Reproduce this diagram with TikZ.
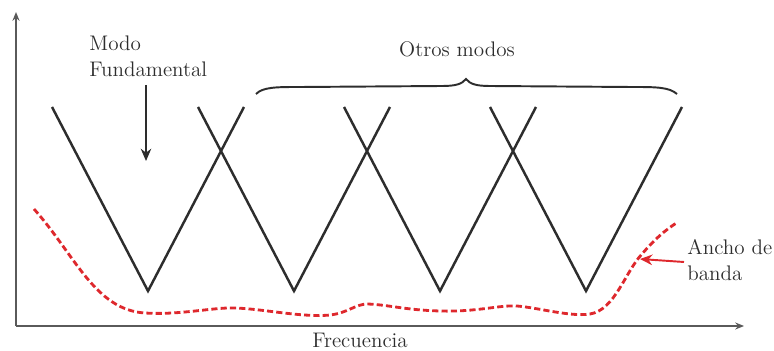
\documentclass[tikz,border=0pt]{standalone}
\usepackage{tikz}
\usetikzlibrary{arrows.meta}
\definecolor{ink}{RGB}{45, 45, 45}
\definecolor{axisgray}{RGB}{90, 90, 90}
\definecolor{bandred}{RGB}{222, 40, 45}
\tikzset{
  mode/.style={ink, line width=1.4pt, line join=miter},
  label/.style={ink, font=\fontsize{12}{14.5}\selectfont, inner sep=0pt},
  band/.style={bandred, line width=1.6pt, dash pattern=on 3.5pt off 1.8pt}
}

\begin{document}
\begin{tikzpicture}[x=0.02cm, y=-0.02cm]
  \useasboundingbox (0, 0) rectangle (774, 351);

  % ejes
  \coordinate (origin) at (16, 326);
  \coordinate (ytip) at (16, 12);
  \coordinate (xtip) at (744, 326);
  \draw [axisgray, -{Stealth[length=5pt, width=4pt]}, line width=0.9pt] (origin) -- (ytip);
  \draw [axisgray, -{Stealth[length=5pt, width=4pt]}, line width=0.9pt] (origin) -- (xtip);
  \node[label] (freq) at (360, 340) {Frecuencia};

  % modos (V)
  \foreach \b in {148, 294, 440, 586}
    \draw[mode] (\b - 96, 107) -- (\b, 291) -- (\b + 96, 107);

  % llave
  \draw[ink, line width=1.1pt] (256, 94) .. controls (263, 87) and (276, 87) .. (300, 87)
    -- (442, 86) .. controls (456, 86) and (462, 84) .. (466, 79)
    .. controls (470, 84) and (476, 86) .. (490, 86)
    -- (632, 87) .. controls (656, 87) and (669, 87) .. (677, 94);
  \node[label] (otros) at (457, 49) {Otros modos};

  % modo fundamental
  \node[label, align=left, anchor=north west] (fund) at (89, 36) {Modo\\Fundamental};
  \coordinate (fstart) at (146, 85);
  \coordinate (fend) at (146, 161);
  \draw [ink, -{Stealth[length=7pt, width=6pt]}, line width=0.9pt] (fstart) -- (fend);

  % ancho de banda
  \draw[band] (34, 209) .. controls (75, 255) and (95, 310) .. (145, 313)
    .. controls (175, 315) and (205, 309) .. (227, 308)
    .. controls (255, 307) and (300, 318) .. (330, 315)
    .. controls (348, 313) and (355, 304) .. (368, 304)
    .. controls (390, 305) and (405, 310) .. (440, 311)
    .. controls (478, 312) and (498, 305) .. (517, 306)
    .. controls (540, 308) and (570, 317) .. (590, 314)
    .. controls (615, 310) and (625, 272) .. (642, 254)
    .. controls (654, 240) and (665, 230) .. (678, 222);
  \node[label, align=left, anchor=west] (ancho) at (687, 260) {Ancho de\\banda};
  \coordinate (bstart) at (684, 262);
  \coordinate (bend) at (640, 259);
  \draw [bandred, -{Stealth[length=7pt, width=6pt]}, line width=1.1pt] (bstart) -- (bend);
\end{tikzpicture}
\end{document}
